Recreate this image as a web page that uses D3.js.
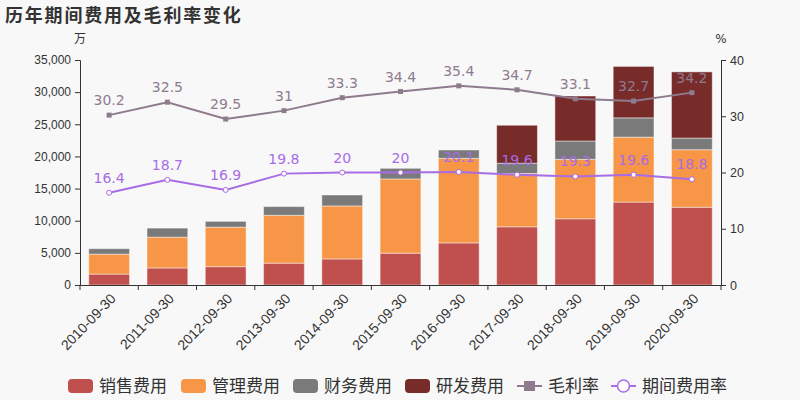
<!DOCTYPE html>
<html>
<head>
<meta charset="utf-8">
<script src="https://cdn.jsdelivr.net/npm/d3@7"></script>
<style>
  body { margin: 0; background: #f8f8f8; }
  svg { display: block; font-family: "DejaVu Sans", "Noto Sans CJK SC", sans-serif; }
</style>
</head>
<body>
<div id="chart"></div>
<script>
const categories = ["2010-09-30", "2011-09-30", "2012-09-30", "2013-09-30", "2014-09-30", "2015-09-30",
  "2016-09-30", "2017-09-30", "2018-09-30", "2019-09-30", "2020-09-30"];
const sales   = [1700, 2650, 2850, 3400, 4050, 4950, 6550, 9050, 10300, 12900, 12100];
const admin   = [3100, 4800, 6150, 7450, 8250, 11550, 13150, 8300, 9250, 10100, 8950];
const finance = [850, 1400, 900, 1350, 1700, 1650, 1300, 1600, 2850, 3000, 1800];
const rd      = [0, 0, 0, 0, 0, 0, 0, 5900, 7000, 8000, 10300];
const grossMargin = [30.2, 32.5, 29.5, 31, 33.3, 34.4, 35.4, 34.7, 33.1, 32.7, 34.2];
const periodRate  = [16.4, 18.7, 16.9, 19.8, 20, 20, 20.1, 19.6, 19.3, 19.6, 18.8];
const leftTicks  = [0, 5000, 10000, 15000, 20000, 25000, 30000, 35000];
const rightTicks = [0, 10, 20, 30, 40];

const seriesNames = ["销售费用", "管理费用", "财务费用", "研发费用"];
const seriesColors = ["#c0504d", "#f79646", "#7a7a7a", "#772c2a"];
const marginColor = "#8e7b8e";
const rateColor = "#a86ce4";

const width = 800, height = 400;
const margin = { top: 60, right: 79, bottom: 115, left: 80 };

const svg = d3.select("#chart").append("svg")
  .attr("width", width).attr("height", height)
  .style("background-color", "#f8f8f8");

svg.append("text")
  .attr("x", 5).attr("y", 22)
  .text("历年期间费用及毛利率变化")
  .attr("font-size", "18px").attr("font-weight", "bold")
  .attr("fill", "#333").attr("letter-spacing", "1.8px");

const x = d3.scaleBand().domain(categories)
  .range([margin.left, width - margin.right]).paddingInner(0.3).paddingOuter(0.15);
const yL = d3.scaleLinear().domain([0, 35000]).range([height - margin.bottom, margin.top]);
const yR = d3.scaleLinear().domain([0, 40]).range([height - margin.bottom, margin.top]);

// stacked bars
const rows = categories.map((c, i) => ({ cat: c, s0: sales[i], s1: admin[i], s2: finance[i], s3: rd[i] }));
const stack = d3.stack().keys(["s0", "s1", "s2", "s3"])(rows);

svg.append("g").selectAll("g")
  .data(stack).enter().append("g")
  .attr("fill", (d, i) => seriesColors[i])
  .selectAll("rect")
  .data(d => d.filter(p => p[1] > p[0]))
  .enter().append("rect")
    .attr("x", d => x(d.data.cat))
    .attr("width", x.bandwidth())
    .attr("y", d => yL(d[1]))
    .attr("height", d => yL(d[0]) - yL(d[1]))
    .attr("stroke", "#ffffff").attr("stroke-opacity", 0.45).attr("stroke-width", 1);

// axes
const axisX = svg.append("g")
  .attr("transform", `translate(0,${height - margin.bottom})`)
  .call(d3.axisBottom(x).tickSize(0).tickFormat(d => d));
axisX.select(".domain").attr("stroke", "#333");
axisX.selectAll(".tick text")
  .attr("font-size", "14px").attr("fill", "#333")
  .attr("text-anchor", "end")
  .attr("y", 0).attr("dy", "0.35em")
  .attr("transform", "translate(4,11) rotate(-46)");
// boundary ticks
const bounds = d3.range(categories.length + 1).map(i => margin.left + i * (width - margin.left - margin.right) / categories.length);
axisX.selectAll(".btick").data(bounds).enter().append("line")
  .attr("x1", d => d).attr("x2", d => d).attr("y1", 0).attr("y2", 5).attr("stroke", "#333");

const axisL = svg.append("g")
  .attr("transform", `translate(${margin.left},0)`)
  .call(d3.axisLeft(yL).tickValues(leftTicks).tickSize(5).tickPadding(4).tickFormat(d3.format(",")));
axisL.selectAll("text").attr("font-size", "12px").attr("fill", "#333");
axisL.selectAll("line, path").attr("stroke", "#333");

const axisR = svg.append("g")
  .attr("transform", `translate(${width - margin.right},0)`)
  .call(d3.axisRight(yR).tickValues(rightTicks).tickSize(5).tickPadding(4));
axisR.selectAll("text").attr("font-size", "12.5px").attr("fill", "#333");
axisR.selectAll("line, path").attr("stroke", "#333");

svg.append("text").attr("x", margin.left).attr("y", 43).attr("text-anchor", "middle")
  .text("万").attr("font-size", "12px").attr("fill", "#333");
svg.append("text").attr("x", width - margin.right).attr("y", 43).attr("text-anchor", "middle")
  .text("%").attr("font-size", "12px").attr("fill", "#333");

// lines
const cx = (d, i) => x(categories[i]) + x.bandwidth() / 2;
const lineGen = d3.line().x(cx).y(d => yR(d));

svg.append("path").datum(grossMargin)
  .attr("d", lineGen).attr("fill", "none").attr("stroke", marginColor).attr("stroke-width", 2);
svg.append("g").selectAll("rect").data(grossMargin).enter().append("rect")
  .attr("x", (d, i) => cx(d, i) - 2.5).attr("y", d => yR(d) - 2.5)
  .attr("width", 5).attr("height", 5).attr("fill", marginColor);
svg.append("g").selectAll("text").data(grossMargin).enter().append("text")
  .attr("x", cx).attr("y", d => yR(d) - 10)
  .attr("text-anchor", "middle").attr("font-size", "14px").attr("fill", marginColor)
  .text(d => d);

svg.append("path").datum(periodRate)
  .attr("d", lineGen).attr("fill", "none").attr("stroke", rateColor).attr("stroke-width", 2);
svg.append("g").selectAll("circle").data(periodRate).enter().append("circle")
  .attr("cx", cx).attr("cy", d => yR(d)).attr("r", 2.5)
  .attr("fill", "#fff").attr("stroke", rateColor).attr("stroke-width", 1);
svg.append("g").selectAll("text").data(periodRate).enter().append("text")
  .attr("x", cx).attr("y", d => yR(d) - 10)
  .attr("text-anchor", "middle").attr("font-size", "14px").attr("fill", rateColor)
  .text(d => d);

// legend
const legend = svg.append("g").attr("transform", "translate(0,386)");
const barX = [68, 181, 293, 405];
seriesNames.forEach((n, i) => {
  legend.append("rect").attr("x", barX[i]).attr("y", -7).attr("width", 25).attr("height", 14)
    .attr("rx", 4).attr("fill", seriesColors[i]);
  legend.append("text").attr("x", barX[i] + 31).attr("y", 0).attr("dy", "0.35em")
    .attr("font-size", "17px").attr("fill", "#333").text(n);
});
legend.append("line").attr("x1", 517).attr("x2", 542).attr("y1", 0).attr("y2", 0)
  .attr("stroke", marginColor).attr("stroke-width", 2);
legend.append("rect").attr("x", 524).attr("y", -5).attr("width", 11).attr("height", 10).attr("fill", marginColor);
legend.append("text").attr("x", 548).attr("y", 0).attr("dy", "0.35em")
  .attr("font-size", "17px").attr("fill", "#333").text("毛利率");
legend.append("line").attr("x1", 611).attr("x2", 636).attr("y1", 0).attr("y2", 0)
  .attr("stroke", rateColor).attr("stroke-width", 2);
legend.append("circle").attr("cx", 623.5).attr("cy", 0).attr("r", 6)
  .attr("fill", "#fff").attr("stroke", rateColor).attr("stroke-width", 1.5);
legend.append("text").attr("x", 642).attr("y", 0).attr("dy", "0.35em")
  .attr("font-size", "17px").attr("fill", "#333").text("期间费用率");
</script>
</body>
</html>
